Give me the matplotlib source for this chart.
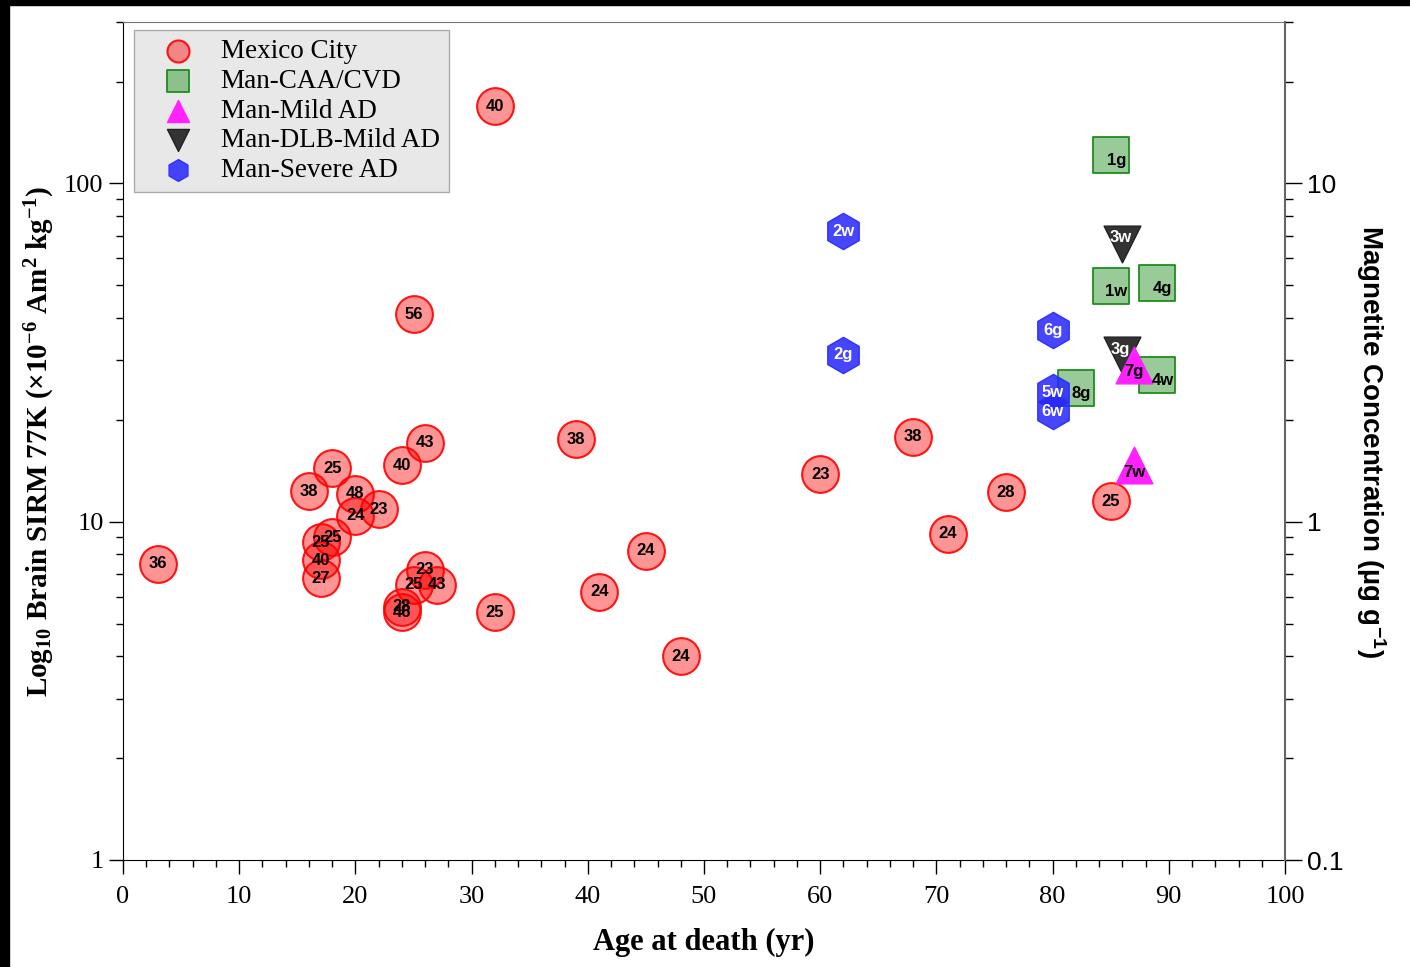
import matplotlib.pyplot as plt
from matplotlib.patches import Rectangle
from matplotlib.ticker import LogLocator, NullFormatter, FixedLocator, FixedFormatter, MultipleLocator

plt.rcParams['mathtext.default'] = 'regular'

# Mexico City cases: age at death, SIRM, label
mc_age = [3, 32, 25, 18, 16, 20, 22, 20, 18, 17, 17, 17, 24, 26, 26, 25, 27, 24, 24, 32,
          39, 41, 45, 48, 60, 68, 71, 76, 85]
mc_sirm = [7.5, 169, 41, 14.4, 12.3, 12.1, 10.9, 10.4, 9.0, 8.7, 7.7, 6.8, 14.7, 17.1, 7.2,
           6.5, 6.5, 5.6, 5.4, 5.4, 17.5, 6.2, 8.2, 4.0, 13.8, 17.8, 9.2, 12.2, 11.5]
mc_label = ['36', '40', '56', '25', '38', '48', '23', '24', '25', '25', '40', '27', '40', '43',
            '23', '25', '43', '28', '46', '25', '38', '24', '24', '24', '23', '38', '24', '28', '25']

caa_age = [85, 85, 89, 89, 82]
caa_sirm = [121, 49.6, 50.8, 27.1, 24.9]
caa_label = ['1g', '1w', '4g', '4w', '8g']

mild_age = [87, 87]
mild_sirm = [29.1, 14.7]
mild_label = ['7g', '7w']

dlb_age = [86, 86]
dlb_sirm = [66.3, 31.0]
dlb_label = ['3w', '3g']

sev_age = [62, 62, 80, 80, 80]
sev_sirm = [72.1, 31.2, 36.8, 24.1, 21.2]
sev_label = ['2w', '2g', '6g', '5w', '6w']

serif = 'Liberation Serif'
sans = 'Liberation Sans'

fig = plt.figure(figsize=(14.1, 9.67), dpi=100)
ax = fig.add_axes([123 / 1410, 1 - 860 / 967, 1162 / 1410, 838 / 967])

# black frame strips at top and left of the picture
fig.patches.append(Rectangle((0, 1 - 5 / 967), 1, 5 / 967, transform=fig.transFigure,
                             color='black', zorder=10))
fig.patches.append(Rectangle((0, 0), 9 / 1410, 1, transform=fig.transFigure,
                             color='black', zorder=10))

ms = 700
ax.scatter(mc_age, mc_sirm, s=ms, marker='o', facecolor=(1, 0, 0, 0.42),
           edgecolor=(1, 0, 0, 0.9), linewidth=1.5, label='Mexico City', zorder=3)
ax.scatter(caa_age, caa_sirm, s=ms, marker='s', facecolor=(0.2, 0.6, 0.2, 0.5),
           edgecolor='#1e8c1e', linewidth=1.3, label='Man-CAA/CVD', zorder=4)
ax.scatter(mild_age, mild_sirm, s=ms, marker='^', facecolor='#ff22ff',
           edgecolor='#ff22ff', linewidth=1, label='Man-Mild AD', zorder=6)
ax.scatter(dlb_age, dlb_sirm, s=ms, marker='v', facecolor='#333333',
           edgecolor='#222222', linewidth=1, label='Man-DLB-Mild AD', zorder=5)
ax.scatter(sev_age, sev_sirm, s=680, marker='h', facecolor=(0.15, 0.15, 1, 0.85),
           edgecolor='#3030ff', linewidth=1, label='Man-Severe AD', zorder=4)

lab_kw = dict(textcoords='offset points', ha='center', va='center',
              fontsize=12, fontweight='bold', family=sans, zorder=8)
for x, y, t in zip(mc_age, mc_sirm, mc_label):
    ax.annotate(t, (x, y), xytext=(0, 0), color='black', **lab_kw)
for x, y, t in zip(caa_age, caa_sirm, caa_label):
    ax.annotate(t, (x, y), xytext=(4, -4), color='black', **lab_kw)
for x, y, t in zip(mild_age, mild_sirm, mild_label):
    ax.annotate(t, (x, y), xytext=(0, -5), color='black', **lab_kw)
for x, y, t in zip(dlb_age, dlb_sirm, dlb_label):
    ax.annotate(t, (x, y), xytext=(-1.5, 4.5), color='white', **lab_kw)
for x, y, t in zip(sev_age, sev_sirm, sev_label):
    ax.annotate(t, (x, y), xytext=(0, 0), color='white', **lab_kw)

ax.set_yscale('log')
ax.set_xlim(0, 100)
ax.set_ylim(1, 300)
ax.xaxis.set_major_locator(MultipleLocator(10))
ax.xaxis.set_minor_locator(MultipleLocator(2))
ax.yaxis.set_major_locator(FixedLocator([1, 10, 100]))
ax.yaxis.set_major_formatter(FixedFormatter(['1', '10', '100']))
ax.yaxis.set_minor_locator(LogLocator(base=10, subs=range(2, 10)))
ax.yaxis.set_minor_formatter(NullFormatter())
ax.tick_params(axis='both', which='major', direction='out', length=10, width=1,
               labelsize=19, pad=4)
ax.tick_params(axis='x', which='major', pad=9)
ax.tick_params(axis='both', which='minor', direction='out', length=5, width=1)
for lbl in ax.get_xticklabels() + ax.get_yticklabels():
    lbl.set_family(serif)
ax.spines['top'].set_color('#777777')
ax.spines['right'].set_visible(False)

ax.set_xlabel('Age at death (yr)', fontsize=22, fontweight='bold', family=serif, labelpad=14)
ax.set_ylabel(r'Log$_{10}$ Brain SIRM 77K (×10$^{-6}$ Am$^{2}$ kg$^{-1}$)',
              fontsize=21, fontweight='bold', family=serif, labelpad=5)

ax2 = ax.twinx()
ax2.set_yscale('log')
ax2.set_ylim(0.1, 30)
ax2.yaxis.set_major_locator(FixedLocator([0.1, 1, 10]))
ax2.yaxis.set_major_formatter(FixedFormatter(['0.1', '1', '10']))
ax2.yaxis.set_minor_locator(LogLocator(base=10, subs=range(2, 10)))
ax2.yaxis.set_minor_formatter(NullFormatter())
ax2.tick_params(axis='y', which='major', direction='out', length=12, width=1,
                labelsize=19, pad=4)
ax2.tick_params(axis='y', which='minor', direction='out', length=6, width=1)
for lbl in ax2.get_yticklabels():
    lbl.set_family(sans)
for side in ['top', 'left', 'bottom']:
    ax2.spines[side].set_visible(False)
ax2.spines['right'].set_color('#666666')
ax2.spines['right'].set_linewidth(1.5)
ax2.set_ylabel(r'Magnetite Concentration (µg g$^{-1}$)', fontsize=20, fontweight='bold',
               family=sans, rotation=-90, labelpad=32)

leg = ax.legend(loc='upper left', bbox_to_anchor=(0.0095, 0.9905), prop={'family': serif, 'size': 19.5},
                markerscale=0.6, frameon=True, fancybox=False, borderpad=0.35,
                labelspacing=0.17, handlelength=2.55, handletextpad=0.3, borderaxespad=0)
leg.get_frame().set_facecolor('#e8e8e8')
leg.get_frame().set_edgecolor('#aaaaaa')
leg.get_frame().set_alpha(1)

fig.savefig('out.png', dpi=100)
